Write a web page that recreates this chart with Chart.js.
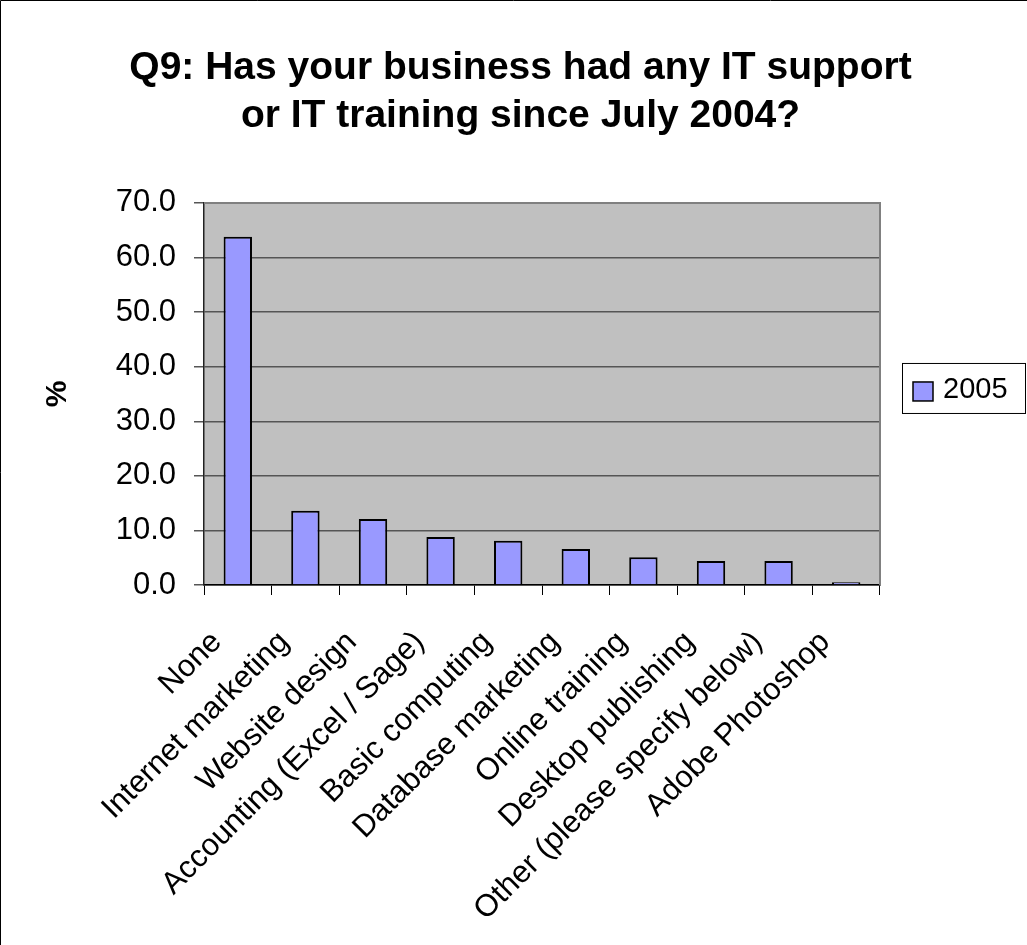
<!DOCTYPE html>
<html>
<head>
<meta charset="utf-8">
<title>Q9: IT support or IT training since July 2004</title>
<script src="https://cdn.jsdelivr.net/npm/chart.js@4.4.1/dist/chart.umd.min.js"></script>
<style>
  html, body { margin: 0; padding: 0; background: #ffffff; }
  canvas { display: block; }
</style>
</head>
<body>
<canvas id="chart" width="1027" height="945"></canvas>
<script>
// Survey answers (categories) and share of respondents, in percent
const categories = [
  'None',
  'Internet marketing',
  'Website design',
  'Accounting (Excel / Sage)',
  'Basic computing',
  'Database marketing',
  'Online training',
  'Desktop publishing',
  'Other (please specify below)',
  'Adobe Photoshop'
];
const values2005 = [63.8, 13.6, 12.1, 8.8, 8.1, 6.6, 5.1, 4.4, 4.4, 0.5];
const seriesLabel = '2005';
const titleLines = ['Q9: Has your business had any IT support', 'or IT training since July 2004?'];
const yAxisTitle = '%';
const yTickValues = [0, 10, 20, 30, 40, 50, 60, 70];

const FONT = '"Liberation Sans", Arial, Helvetica, sans-serif';
const BAR_FILL = '#9999FF';
const PLOT_BG = '#C0C0C0';

// Grey plot background plus frame, and the chart's top/left edge lines
const plotBackground = {
  id: 'plotBackground',
  beforeDraw(chart) {
    const { ctx, chartArea: a } = chart;
    ctx.save();
    ctx.fillStyle = '#ffffff';
    ctx.fillRect(0, 0, chart.width, chart.height);
    ctx.fillStyle = PLOT_BG;
    ctx.fillRect(a.left, a.top, a.right - a.left, a.bottom - a.top);
    ctx.restore();
  },
  afterDraw(chart) {
    const { ctx, chartArea: a } = chart;
    ctx.save();
    ctx.strokeStyle = '#808080';
    ctx.lineWidth = 2;
    ctx.beginPath();
    ctx.moveTo(a.left, a.top);
    ctx.lineTo(a.right, a.top);
    ctx.lineTo(a.right, a.bottom);
    ctx.stroke();
    ctx.strokeStyle = '#000000';
    ctx.lineWidth = 1;
    ctx.beginPath();
    ctx.moveTo(0.5, chart.height);
    ctx.lineTo(0.5, 0.5);
    ctx.lineTo(chart.width, 0.5);
    ctx.stroke();
    ctx.restore();
  }
};

// Boxed legend to the right of the plot
const boxedLegend = {
  id: 'boxedLegend',
  afterDraw(chart) {
    const { ctx, chartArea: a } = chart;
    const ds = chart.data.datasets[0];
    const x0 = a.right + 22, y0 = (a.top + a.bottom) / 2 - 31;
    const w = 123, h = 50;
    ctx.save();
    ctx.fillStyle = '#ffffff';
    ctx.fillRect(x0, y0, w, h);
    ctx.strokeStyle = '#000000';
    ctx.lineWidth = 1;
    ctx.strokeRect(x0 + 0.5, y0 + 0.5, w, h);
    ctx.fillStyle = ds.backgroundColor;
    ctx.fillRect(x0 + 11, y0 + 19, 20, 19);
    ctx.lineWidth = 1.5;
    ctx.strokeRect(x0 + 11, y0 + 19, 20, 19);
    ctx.fillStyle = '#000000';
    ctx.font = '29px ' + FONT;
    ctx.textBaseline = 'middle';
    ctx.textAlign = 'left';
    ctx.fillText(ds.label, x0 + 41, y0 + 27);
    ctx.restore();
  }
};

new Chart(document.getElementById('chart'), {
  type: 'bar',
  data: {
    labels: categories,
    datasets: [{
      label: seriesLabel,
      data: values2005,
      backgroundColor: BAR_FILL,
      borderColor: '#000000',
      borderWidth: 2,
      categoryPercentage: 1.0,
      barPercentage: 0.42
    }]
  },
  options: {
    responsive: false,
    animation: false,
    devicePixelRatio: 1,
    layout: { padding: { left: 14, right: 0, top: 0, bottom: 0 } },
    plugins: {
      legend: { display: false },
      tooltip: { enabled: false },
      title: {
        display: true,
        text: titleLines,
        color: '#000000',
        font: { family: FONT, size: 39, weight: 'bold', lineHeight: 1.23 },
        padding: { top: 44, bottom: 63 }
      }
    },
    scales: {
      x: {
        type: 'category',
        offset: true,
        grid: {
          display: true,
          offset: true,
          drawOnChartArea: false,
          drawTicks: true,
          tickLength: 10,
          color: '#000000',
          lineWidth: 1
        },
        border: { display: true, color: '#000000', width: 1.5 },
        ticks: {
          color: '#000000',
          font: { family: FONT, size: 31 },
          minRotation: 45,
          maxRotation: 45,
          autoSkip: false,
          padding: 29,
          labelOffset: -21
        },
        afterFit(scale) { scale.height = 360; }
      },
      y: {
        type: 'linear',
        min: 0,
        max: 70,
        afterBuildTicks(scale) { scale.ticks = yTickValues.map(v => ({ value: v })); },
        grid: {
          color: '#555555',
          lineWidth: 1.5,
          tickLength: 10,
          drawTicks: true
        },
        border: { display: true, color: '#222222', width: 1.5 },
        ticks: {
          color: '#000000',
          font: { family: FONT, size: 31 },
          padding: 18,
          callback: v => Number(v).toFixed(1)
        },
        title: {
          display: true,
          text: yAxisTitle,
          color: '#000000',
          font: { family: FONT, size: 30, weight: 'bold', lineHeight: 1.2 },
          padding: { top: 26, bottom: 0 }
        },
        afterFit(scale) { scale.width = 190; }
      },
      legendSpace: {
        type: 'linear',
        position: 'right',
        display: true,
        grid: { display: false },
        border: { display: false },
        ticks: { display: false },
        afterFit(scale) { scale.width = 147; }
      }
    }
  },
  plugins: [plotBackground, boxedLegend]
});
</script>
</body>
</html>
